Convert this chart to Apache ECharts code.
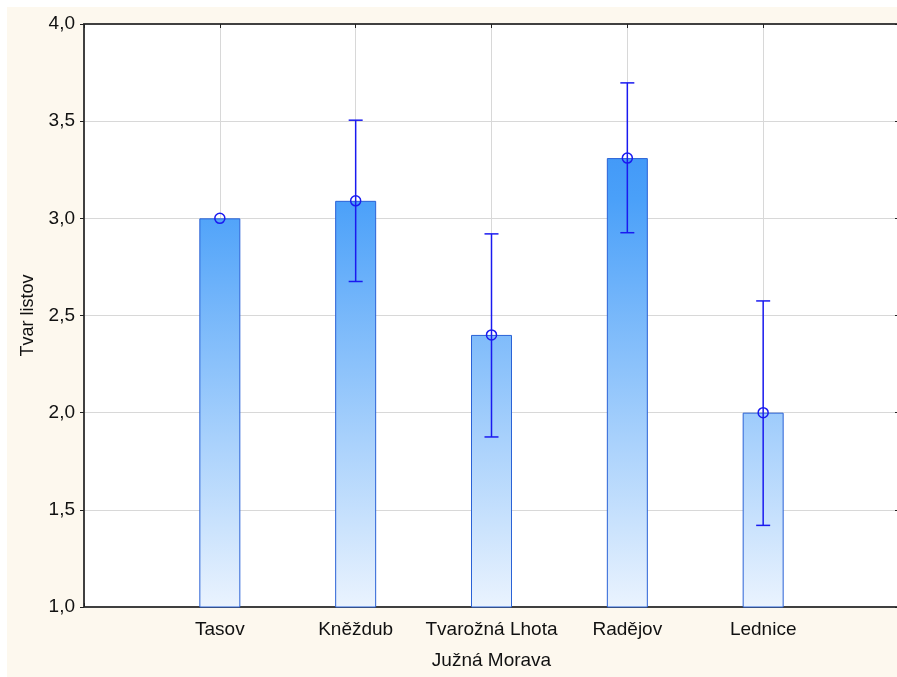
<!DOCTYPE html>
<html>
<head>
<meta charset="utf-8">
<script src="https://cdn.jsdelivr.net/npm/echarts@6/dist/echarts.min.js"></script>
<style>
html,body{margin:0;padding:0;background:#ffffff;overflow:hidden;}
#chart{width:897px;height:677px;}
</style>
</head>
<body>
<div id="chart"></div>
<script>
const categories = ['Tasov', 'Kněždub', 'Tvarožná Lhota', 'Radějov', 'Lednice'];
const means = [3.0, 3.09, 2.40, 3.31, 2.00];
const upper = [null, 3.505, 2.92, 3.697, 2.575];
const lower = [null, 2.675, 1.875, 2.926, 1.42];
const yTicks = [1.0, 1.5, 2.0, 2.5, 3.0, 3.5, 4.0];
const xTitle = 'Južná Morava';
const yTitle = 'Tvar listov';

const axisCats = [''].concat(categories).concat(['']);
const barData = means.map((v, i) => [i + 1, v]);
const errData = means.map((v, i) => [i + 1, v, upper[i], lower[i]]);

const chart = echarts.init(document.getElementById('chart'));
const FONT = 'Liberation Sans, Arial, sans-serif';
const lineColor = '#1a1af0';

chart.setOption({
  animation: false,
  backgroundColor: '#ffffff',
  graphic: [{
    type: 'rect', z: -10, silent: true,
    shape: {x: 7, y: 7, width: 900, height: 680},
    style: {fill: '#fdf8ee'}
  }],
  grid: {left: 84, width: 815, top: 24, height: 583, containLabel: false, outerBoundsMode: 'none',
    show: true, backgroundColor: '#ffffff', borderWidth: 0},
  xAxis: [{
    type: 'category', data: axisCats, boundaryGap: false,
    name: xTitle, nameLocation: 'middle', nameGap: 44,
    nameTextStyle: {fontFamily: FONT, fontSize: 19, color: '#111'},
    axisLine: {lineStyle: {color: '#404040', width: 2}},
    axisTick: {show: true, inside: true, length: 4, lineStyle: {color: '#222'}},
    axisLabel: {interval: 0, fontFamily: FONT, fontSize: 19, color: '#111', margin: 13},
    splitLine: {show: true, lineStyle: {color: '#d8d8d8', width: 1}}
  }, {
    type: 'category', data: axisCats, boundaryGap: false, position: 'top',
    axisLine: {lineStyle: {color: '#404040', width: 2}},
    axisTick: {show: true, inside: true, length: 4, lineStyle: {color: '#222'}},
    axisLabel: {show: false}, splitLine: {show: false}
  }],
  yAxis: [{
    type: 'value', min: 1, max: 4, interval: 0.5,
    name: yTitle, nameLocation: 'middle', nameGap: 47, nameRotate: 90,
    nameTextStyle: {fontFamily: FONT, fontSize: 18, color: '#111'},
    axisLine: {show: true, lineStyle: {color: '#404040', width: 2}},
    axisTick: {show: true, length: 4, lineStyle: {color: '#222'}},
    axisLabel: {fontFamily: FONT, fontSize: 19, color: '#111', margin: 9,
      formatter: v => yTicks.indexOf(v) >= 0 ? v.toFixed(1).replace('.', ',') : ''},
    splitLine: {show: true, lineStyle: {color: '#d8d8d8', width: 1}}
  }, {
    type: 'value', min: 1, max: 4, interval: 0.5, position: 'right',
    axisLine: {show: true, lineStyle: {color: '#404040', width: 2}},
    axisTick: {show: true, inside: true, length: 4, lineStyle: {color: '#222'}},
    axisLabel: {show: false}, splitLine: {show: false}
  }],
  series: [{
    type: 'bar', data: barData, barWidth: 41,
    itemStyle: {
      color: {type: 'linear', x: 0, y: 24, x2: 0, y2: 607, global: true,
        colorStops: [{offset: 0, color: '#2c86f3'}, {offset: 0.3, color: '#4aa0f9'}, {offset: 1, color: '#eaf3fe'}]},
      borderColor: '#2a62d6', borderWidth: 1
    }
  }, {
    type: 'custom', data: errData, z: 5,
    renderItem: function (params, api) {
      const x = api.value(0);
      const m = api.coord([x, api.value(1)]);
      const children = [];
      const up = api.value(2), lo = api.value(3);
      if (up != null && !isNaN(up) && lo != null && !isNaN(lo)) {
        const pu = api.coord([x, up]);
        const pl = api.coord([x, lo]);
        const st = {stroke: lineColor, lineWidth: 1.5};
        children.push({type: 'line', shape: {x1: m[0], y1: pu[1], x2: m[0], y2: pl[1]}, style: st});
        children.push({type: 'line', shape: {x1: m[0] - 7, y1: pu[1], x2: m[0] + 7, y2: pu[1]}, style: st});
        children.push({type: 'line', shape: {x1: m[0] - 7, y1: pl[1], x2: m[0] + 7, y2: pl[1]}, style: st});
      }
      children.push({type: 'circle', shape: {cx: m[0], cy: m[1], r: 5},
        style: {fill: 'none', stroke: lineColor, lineWidth: 1.5}});
      return {type: 'group', children: children};
    }
  }]
});
</script>
</body>
</html>
